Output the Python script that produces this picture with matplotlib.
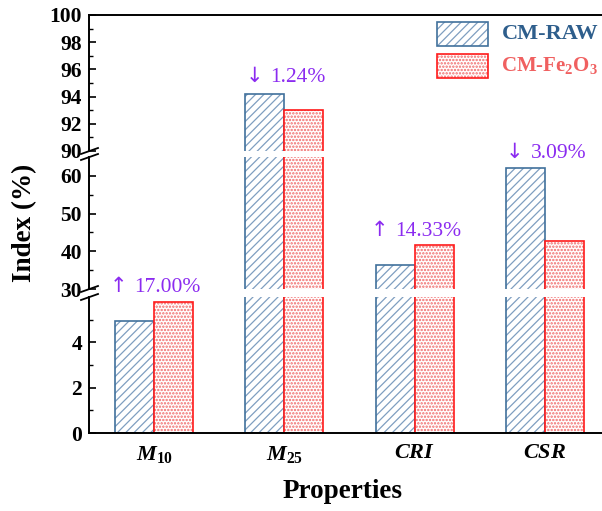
import numpy as np
import matplotlib.pyplot as plt
from matplotlib.patches import Rectangle
from matplotlib.ticker import FixedLocator
from matplotlib.offsetbox import TextArea, HPacker, AnnotationBbox

plt.rcParams['font.family'] = ['Liberation Serif', 'DejaVu Serif']
plt.rcParams['mathtext.fontset'] = 'custom'
plt.rcParams['mathtext.rm'] = 'Liberation Serif:bold'
plt.rcParams['mathtext.bf'] = 'Liberation Serif:bold'
plt.rcParams['mathtext.it'] = 'Liberation Serif:italic:bold'
plt.rcParams['hatch.linewidth'] = 0.9

# data
props = [r'$M_{10}$', r'$M_{25}$', r'$CRI$', r'$CSR$']
raw = [4.95, 94.2, 36.4, 62.0]
fe2o3 = [5.79, 93.03, 41.6, 42.8]
arrows = ['\u2191', '\u2193', '\u2191', '\u2193']
changes = ['17.00%', '1.24%', '14.33%', '3.09%']

blue_edge = '#41719C'
blue_hatch = '#7F9EC0'
red_edge = '#FF1A1A'
red_hatch = '#F06A6A'
purple = '#8B2BF0'

W, H = 602, 511
fig = plt.figure(figsize=(W / 100, H / 100), dpi=100)

def px(x0, top, x1, bottom):
    return [x0 / W, 1 - bottom / H, (x1 - x0) / W, (bottom - top) / H]

ax_top = fig.add_axes(px(89, 15, 610, 151))
ax_mid = fig.add_axes(px(89, 157, 610, 289))
ax_bot = fig.add_axes(px(89, 297, 610, 433))
axes = [ax_top, ax_mid, ax_bot]

x = np.arange(1, len(props) + 1)
w = 0.30
for ax in axes:
    ax.bar(x - w / 2, raw, w, color='white', edgecolor=blue_hatch, hatch='////', linewidth=0)
    ax.bar(x - w / 2, raw, w, fill=False, edgecolor=blue_edge, linewidth=1.2)
    with plt.rc_context({'hatch.linewidth': 1.15}):
        ax.bar(x + w / 2, fe2o3, w, color='white', edgecolor=red_hatch, hatch='.....', linewidth=0)
    ax.bar(x + w / 2, fe2o3, w, fill=False, edgecolor=red_edge, linewidth=1.2)
    ax.set_xlim(0.5, 4.5)
    ax.spines['right'].set_visible(False)
    for s in ax.spines.values():
        s.set_linewidth(1.4)
    ax.tick_params(axis='y', which='major', direction='in', length=5, width=1.2,
                   labelsize=15.5, pad=5)
    ax.tick_params(axis='y', which='minor', direction='in', length=3, width=1.0)
    ax.tick_params(axis='x', length=0)

ax_top.set_ylim(90, 100)
ax_top.yaxis.set_major_locator(FixedLocator([90, 92, 94, 96, 98, 100]))
ax_top.yaxis.set_minor_locator(FixedLocator([91, 93, 95, 97, 99]))
ax_top.spines['bottom'].set_visible(False)
ax_top.set_xticks([])

ax_mid.set_ylim(30, 65)
ax_mid.yaxis.set_major_locator(FixedLocator([30, 40, 50, 60]))
ax_mid.yaxis.set_minor_locator(FixedLocator([35, 45, 55]))
ax_mid.spines['bottom'].set_visible(False)
ax_mid.spines['top'].set_visible(False)
ax_mid.set_xticks([])

ax_bot.set_ylim(0, 6)
ax_bot.yaxis.set_major_locator(FixedLocator([0, 2, 4]))
ax_bot.yaxis.set_minor_locator(FixedLocator([1, 3, 5]))
ax_bot.spines['top'].set_visible(False)
ax_bot.set_xticks(x)
ax_bot.set_xticklabels(props, fontsize=16)
ax_bot.tick_params(axis='x', pad=8)

for ax in axes:
    for lab in ax.get_yticklabels():
        lab.set_fontweight('bold')

# break marks on the left spine
for yb in [151, 157, 289, 297]:
    fig.add_artist(plt.Line2D([81 / W, 98 / W], [1 - (yb + 3) / H, 1 - (yb - 3) / H],
                              color='black', lw=1.3))

# change annotations
ann_ax = [ax_bot, ax_top, ax_mid, ax_mid]
ann_y = [6.45, 95.45, 45.6, 66.1]
for i in range(len(props)):
    arr = TextArea(arrows[i], textprops=dict(color=purple, fontsize=15, family='DejaVu Sans'))
    num = TextArea(changes[i], textprops=dict(color=purple, fontsize=15.5))
    box = HPacker(children=[arr, num], sep=5, pad=0, align='baseline')
    ab = AnnotationBbox(box, (x[i] + 0.01, ann_y[i]), frameon=False, pad=0,
                        box_alignment=(0.5, 0.5), annotation_clip=False)
    ann_ax[i].add_artist(ab)

# legend
fig.add_artist(Rectangle((437 / W, 1 - 46 / H), 51 / W, 24 / H, transform=fig.transFigure,
                         facecolor='white', edgecolor=blue_hatch, hatch='////', lw=0))
fig.add_artist(Rectangle((437 / W, 1 - 46 / H), 51 / W, 24 / H, transform=fig.transFigure,
                         fill=False, edgecolor=blue_edge, lw=1.2))
with plt.rc_context({'hatch.linewidth': 1.15}):
    fig.add_artist(Rectangle((437 / W, 1 - 78 / H), 51 / W, 24 / H, transform=fig.transFigure,
                             facecolor='white', edgecolor=red_hatch, hatch='.....', lw=0))
fig.add_artist(Rectangle((437 / W, 1 - 78 / H), 51 / W, 24 / H, transform=fig.transFigure,
                         fill=False, edgecolor=red_edge, lw=1.2))
fig.text(502 / W, 1 - 34 / H, 'CM-RAW', color='#2E5E8C', fontsize=16,
         fontweight='bold', va='center')
fig.text(501 / W, 1 - 66 / H, r'CM-Fe$_2$O$_3$', color='#F06060', fontsize=15,
         fontweight='bold', va='center')

fig.text(25 / W, 1 - 223 / H, 'Index (%)', rotation=90, fontsize=19.5,
         fontweight='bold', ha='center', va='center')
fig.text(343 / W, 1 - 491 / H, 'Properties', fontsize=19.5, fontweight='bold',
         ha='center', va='center')

fig.savefig('out.png', dpi=100)
